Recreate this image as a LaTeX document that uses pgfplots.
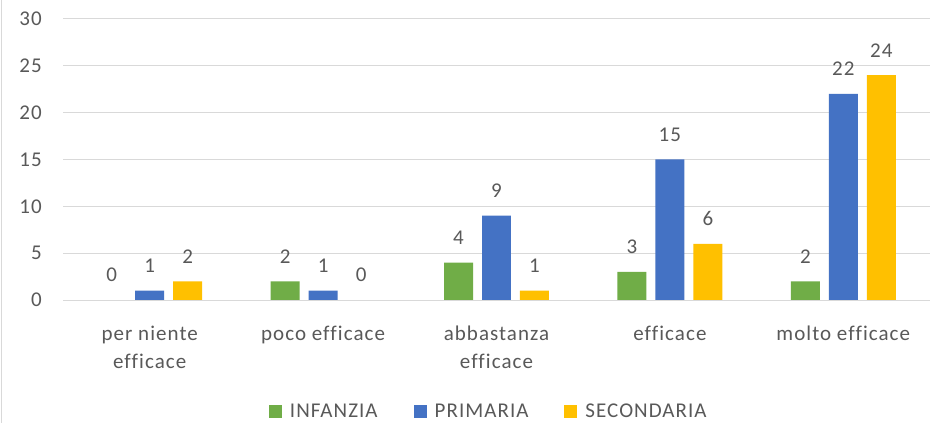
\documentclass[border=0pt]{standalone}
\usepackage{pgfplots}
\pgfplotsset{compat=1.18}
\usepackage{fontspec}
\setmainfont{Carlito}[Ligatures=NoCommon, LetterSpace=5]
\definecolor{cgreen}{HTML}{70AD47}
\definecolor{cblue}{HTML}{4472C4}
\definecolor{cyellow}{HTML}{FFC000}
\definecolor{ctext}{HTML}{595959}
\definecolor{cgrid}{HTML}{D9D9D9}
\pgfplotsset{sqleg/.style={legend image code/.code={\fill[##1] (0bp,-6.5bp) rectangle (13bp,6.5bp);}}}
\newcommand{\st}{\rule{0pt}{16bp}}
\begin{document}
\begin{tikzpicture}
\useasboundingbox (0,0) rectangle (930bp,423bp);
\fill[white] (0,0) rectangle (930bp,423bp);
\draw[cgrid, line width=1bp] (1.5bp,0) -- (1.5bp,423bp);
\begin{axis}[
  at={(63bp,123bp)}, anchor=south west,
  scale only axis, width=867bp, height=281bp,
  xmin=-0.5, xmax=4.5, ymin=0, ymax=30,
  ytick={0,5,...,30},
  xtick={0,...,4},
  xticklabels={{\st per niente\\efficace},{\st poco efficace},{\st abbastanza\\efficace},{\st efficace},{\st molto efficace}},
  axis line style={draw=none},
  ymajorgrids, grid style={cgrid, line width=1bp},
  major tick length=0pt,
  tick label style={font=\fontsize{21bp}{28bp}\selectfont, text=ctext, inner sep=0pt},
  yticklabel style={anchor=east, xshift=-21bp},
  xticklabel style={anchor=north, yshift=-24bp, align=center},
  /pgf/number format/assume math mode=true,
  ybar, bar width=0.167,
  nodes near coords,
  every node near coord/.append style={font=\fontsize{21bp}{25bp}\selectfont, text=ctext, inner sep=0pt, yshift=18bp},
  legend columns=3,
  legend style={at={(0.49,0)}, anchor=north, yshift=-104bp, draw=none, fill=none, inner sep=0pt,
    font=\fontsize{21bp}{25bp}\selectfont, text=ctext,
    nodes={inner sep=0pt},
    /tikz/every odd column/.append style={column sep=8bp},
    /tikz/every even column/.append style={column sep=36bp}},
]
\addplot[fill=cgreen, draw=none, bar shift=-0.219, sqleg] coordinates {(0,0) (1,2) (2,4) (3,3) (4,2)};
\addplot[fill=cblue, draw=none, bar shift=0, sqleg] coordinates {(0,1) (1,1) (2,9) (3,15) (4,22)};
\addplot[fill=cyellow, draw=none, bar shift=0.219, sqleg] coordinates {(0,2) (1,0) (2,1) (3,6) (4,24)};
\legend{INFANZIA, PRIMARIA, SECONDARIA}
\end{axis}
\end{tikzpicture}
\end{document}
